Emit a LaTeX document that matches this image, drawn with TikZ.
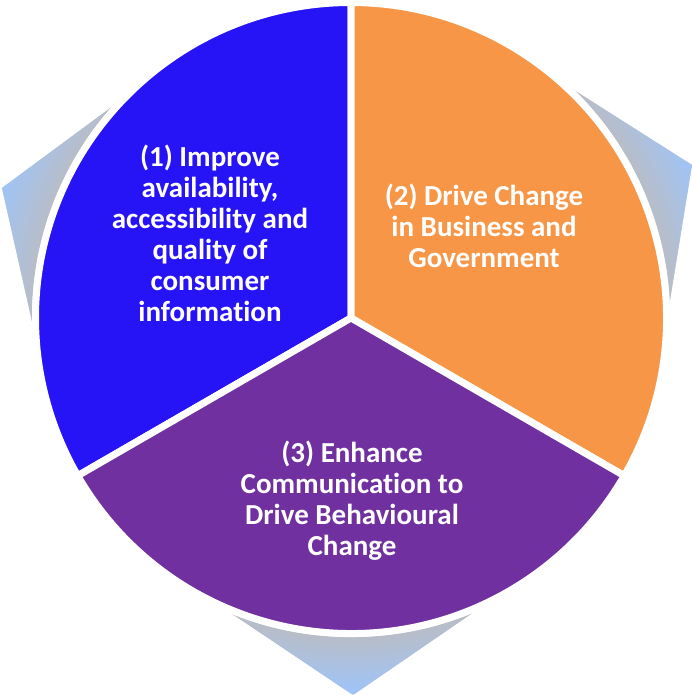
\documentclass[tikz,border=0pt]{standalone}
\usepackage{fontspec}
\setmainfont{Carlito}[Ligatures=NoCommon]
\usetikzlibrary{calc}
\definecolor{secblue}{RGB}{38,20,246}
\definecolor{secorange}{RGB}{247,150,70}
\definecolor{secpurple}{RGB}{112,48,160}
\definecolor{hullgrey}{RGB}{186,189,196}
\definecolor{hullblue}{RGB}{158,196,250}
\pgfdeclareradialshading{hullshade}{\pgfpoint{0bp}{0bp}}{color(0bp)=(hullgrey); color(20.9bp)=(hullgrey); color(25bp)=(hullblue); color(50bp)=(hullblue)}
\begin{document}
\begin{tikzpicture}[x=1pt,y=1pt,
  sector/.style={draw=white,line width=7pt,line join=round},
  sectext/.style={text=white,font=\bfseries\fontsize{29}{31}\selectfont,align=center,inner sep=0pt}]
\useasboundingbox (0,0) rectangle (692,698);
\coordinate (C) at (351,380);
\node[circle,minimum size=624pt,inner sep=0pt,outer sep=0pt] (disc) at (C) {};
\coordinate (tipL) at (2,510);
\coordinate (tipR) at (692,533);
\coordinate (tipB) at (353,3);
\coordinate (tL1) at (tangent cs:node=disc,point={(tipL)},solution=1);
\coordinate (tL2) at (tangent cs:node=disc,point={(tipL)},solution=2);
\coordinate (tR1) at (tangent cs:node=disc,point={(tipR)},solution=1);
\coordinate (tR2) at (tangent cs:node=disc,point={(tipR)},solution=2);
\coordinate (tB1) at (tangent cs:node=disc,point={(tipB)},solution=1);
\coordinate (tB2) at (tangent cs:node=disc,point={(tipB)},solution=2);
% soft shadow
\foreach \k in {1,...,4}{
  \fill[black,opacity=0.05,shift={(0,-\k)}]
    (tipL) -- (tL1) -- (C) -- (tL2) -- cycle
    (tipR) -- (tR1) -- (C) -- (tR2) -- cycle
    (tipB) -- (tB1) -- (C) -- (tB2) -- cycle;
}
\begin{scope}
\clip (tipL) -- (tL1) -- (C) -- (tL2) -- cycle
      (tipR) -- (tR1) -- (C) -- (tR2) -- cycle
      (tipB) -- (tB1) -- (C) -- (tB2) -- cycle;
\shade[shading=hullshade] (C) circle (376);
\end{scope}
\fill[white] (C) circle (319);
\path[sector,fill=secblue] (C) -- ++(90:315.5) arc[start angle=90,end angle=210,radius=315.5] -- cycle;
\path[sector,fill=secorange] (C) -- ++(-30:315.5) arc[start angle=-30,end angle=90,radius=315.5] -- cycle;
\path[sector,fill=secpurple] (C) -- ++(210:315.5) arc[start angle=210,end angle=330,radius=315.5] -- cycle;
\node[sectext] (t1) at (210,465) {(1) Improve\\availability,\\accessibility and\\quality of\\consumer\\information};
\node[sectext] (t2) at (484,472) {(2) Drive Change\\in Business and\\Government};
\node[sectext] (t3) at (352,197) {(3) Enhance\\Communication to\\Drive Behavioural\\Change};
\end{tikzpicture}
\end{document}
